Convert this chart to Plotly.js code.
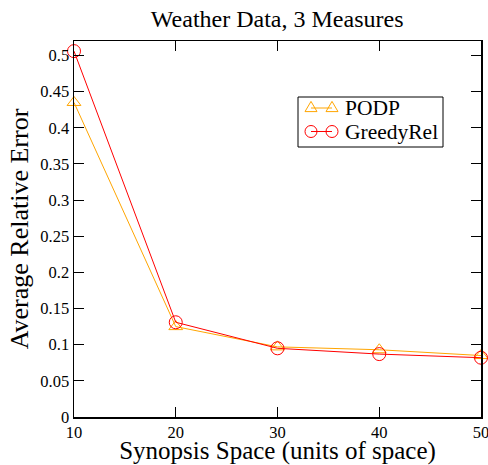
<!DOCTYPE html>
<html>
<head>
<meta charset="utf-8">
<script src="https://cdn.plot.ly/plotly-3.0.1.min.js"></script>
<style>
  html, body { margin: 0; padding: 0; background: #fff; }
  #chart { width: 488px; height: 465px; }
</style>
</head>
<body>
<div id="chart"></div>
<script>
// Synopsis space budgets (units of space)
const synopsisSpace = [10, 20, 30, 40, 50];
// Average relative error per method
const podpError = [0.435, 0.125, 0.097, 0.093, 0.085];
const greedyRelError = [0.506, 0.131, 0.095, 0.087, 0.082];
const seriesNames = ['PODP', 'GreedyRel'];
const seriesColors = ['#FFA500', '#FF0000'];

const serif = '"Liberation Serif", serif';
const W = 488, H = 465;
const M = { l: 74, r: 7, t: 41, b: 48 };

const traces = [
  {
    x: synopsisSpace, y: podpError, name: seriesNames[0],
    type: 'scatter', mode: 'lines+markers',
    line: { color: seriesColors[0], width: 1 },
    marker: { symbol: 'triangle-up-open', size: 12, color: seriesColors[0], line: { width: 1 } },
    cliponaxis: false, showlegend: false
  },
  {
    x: synopsisSpace, y: greedyRelError, name: seriesNames[1],
    type: 'scatter', mode: 'lines+markers',
    line: { color: seriesColors[1], width: 1 },
    marker: { symbol: 'circle-open', size: 13, color: seriesColors[1], line: { width: 1 } },
    cliponaxis: false, showlegend: false
  }
];

// Legend box drawn xmgrace-style: a sample line with a marker at each end.
const plotW = W - M.l - M.r, plotH = H - M.t - M.b;
const px = v => (v - M.l) / plotW;
const py = v => (H - M.b - v) / plotH;

const box = { x0: 298, x1: 443, y0: 97, y1: 147 };
const rowsY = [108, 131.5];
const sampleX = [311, 332];
const textX = 343;

const shapes = [{
  type: 'rect', xref: 'paper', yref: 'paper',
  x0: px(box.x0), x1: px(box.x1), y0: py(box.y1), y1: py(box.y0),
  line: { color: '#000', width: 1 }, fillcolor: '#fff', layer: 'above'
}];
const annotations = [];

rowsY.forEach((ry, i) => {
  const c = seriesColors[i];
  shapes.push({
    type: 'line', xref: 'paper', yref: 'paper',
    x0: px(sampleX[0]), x1: px(sampleX[1]), y0: py(ry), y1: py(ry),
    line: { color: c, width: 1 }, layer: 'above'
  });
  sampleX.forEach(sx => {
    const r = 6;
    if (i === 0) {
      const d = `M${px(sx - r)},${py(ry + r * 0.6)} L${px(sx + r)},${py(ry + r * 0.6)} L${px(sx)},${py(ry - r * 1.1)} Z`;
      shapes.push({ type: 'path', xref: 'paper', yref: 'paper', path: d, line: { color: c, width: 1 }, fillcolor: 'rgba(0,0,0,0)', layer: 'above' });
    } else {
      shapes.push({
        type: 'circle', xref: 'paper', yref: 'paper',
        x0: px(sx - r), x1: px(sx + r), y0: py(ry + r), y1: py(ry - r),
        line: { color: c, width: 1 }, fillcolor: 'rgba(0,0,0,0)', layer: 'above'
      });
    }
  });
  annotations.push({
    text: seriesNames[i], xref: 'paper', yref: 'paper',
    x: px(textX), y: py(ry), xanchor: 'left', yanchor: 'middle',
    showarrow: false, font: { family: serif, size: 21.5, color: '#000' }
  });
});

const axisCommon = {
  showgrid: false, zeroline: false,
  showline: true, linecolor: '#000', linewidth: 1.5, mirror: 'ticks',
  ticks: 'inside', ticklen: 10, tickwidth: 1, tickcolor: '#000',
  ticklabeloverflow: 'allow',
  tickfont: { family: serif, size: 16.5, color: '#000' }
};

const layout = {
  width: W, height: H,
  margin: M,
  font: { family: serif, color: '#000' },
  paper_bgcolor: '#fff', plot_bgcolor: '#fff',
  title: {
    text: 'Weather Data, 3 Measures',
    font: { family: serif, size: 24, color: '#000' },
    x: 0.568, xanchor: 'center', y: 0.959, yanchor: 'middle'
  },
  xaxis: Object.assign({}, axisCommon, {
    range: [10, 50], tickvals: [10, 20, 30, 40, 50],
    title: { text: 'Synopsis Space (units of space)', font: { family: serif, size: 25, color: '#000' }, standoff: 5 }
  }),
  yaxis: Object.assign({}, axisCommon, {
    range: [0, 0.52], dtick: 0.05, tick0: 0,
    title: { text: 'Average Relative Error', font: { family: serif, size: 26, color: '#000' }, standoff: 4 }
  }),
  shapes: shapes,
  annotations: annotations,
  showlegend: false
};

Plotly.newPlot('chart', traces, layout, { displayModeBar: false, staticPlot: true });
</script>
</body>
</html>
